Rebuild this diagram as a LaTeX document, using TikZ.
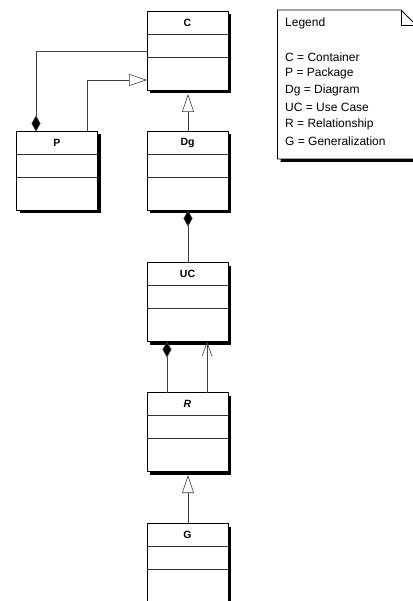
\documentclass[tikz,border=0pt]{standalone}
\usepackage{fontspec}
\setmainfont{Liberation Sans}
\usetikzlibrary{arrows.meta,shadows}
\begin{document}
\begin{tikzpicture}[x=1pt,y=-1pt,
  cls/.style={draw=black, line width=0.8pt, fill=white, minimum width=81pt, minimum height=79pt, inner sep=0pt, outer sep=0pt,
    drop shadow={shadow xshift=3pt, shadow yshift=-3pt, fill=black, opacity=1}},
  ttl/.style={font=\fontsize{10.5}{12}\selectfont\bfseries, anchor=center},
  dv/.style={line width=0.7pt, black!80},
  conn/.style={line width=0.6pt, black!75},
  gen/.style={conn, -{Triangle[open, length=18pt, width=12pt, fill=white]}},
  comp/.style={conn, {Diamond[length=16pt, width=9pt, fill=black]}-},
  nav/.style={conn, -{Straight Barb[length=14pt, width=10pt]}},
  leg/.style={font=\fontsize{12}{14}\selectfont, anchor=west, inner sep=0pt}
]
\useasboundingbox (0,0) rectangle (412,601);

% class boxes
\node[cls] (C)  at (187.5,50.5) {};
\node[cls] (P)  at (57,171) {};
\node[cls] (Dg) at (187.5,171) {};
\node[cls] (UC) at (187.5,302) {};
\node[cls] (R)  at (187.5,432) {};
\node[cls] (G)  at (187.5,563) {};

\foreach \n/\t in {C/C,P/P,Dg/Dg,UC/UC,G/G}{
  \node[ttl] (\n-t) at ([yshift=-11.5pt]\n.north) {\t};
  \draw[dv] ([yshift=-23pt]\n.north west) -- ([yshift=-23pt]\n.north east);
  \draw[dv] ([yshift=-46pt]\n.north west) -- ([yshift=-46pt]\n.north east);
}
\node[ttl] (R-t) at ([yshift=-11.5pt]R.north) {\itshape R};
\draw[dv] ([yshift=-23pt]R.north west) -- ([yshift=-23pt]R.north east);
\draw[dv] ([yshift=-46pt]R.north west) -- ([yshift=-46pt]R.north east);

% connectors
\coordinate (pc1) at (36,51);
\draw[comp] (P.north -| pc1) -- (pc1) -- (C.west |- pc1);
\coordinate (pg1) at (87,80);
\draw[gen] (P.north -| pg1) -- (pg1) -- (C.west |- pg1);
\coordinate (dgc) at (188,94);
\draw[gen] (Dg.north -| dgc) -- (dgc);
\draw[comp] (Dg.south -| dgc) -- (UC.north -| dgc);
\coordinate (ruc1) at (167,0);
\draw[comp] (UC.south -| ruc1) -- (R.north -| ruc1);
\coordinate (ruc2) at (207,0);
\draw[nav] (R.north -| ruc2) -- (UC.south -| ruc2);
\coordinate (rg) at (188,475);
\draw[gen] (G.north -| rg) -- (rg);

% legend note
\fill[black] (280.5,13) -- (404,13) -- (419,28) -- (419,162) -- (280.5,162) -- cycle;
\draw[line width=0.8pt, fill=white] (277.5,10) -- (401,10) -- (416,25) -- (416,159) -- (277.5,159) -- cycle;
\draw[line width=0.6pt] (401,10) -- (401,25) -- (416,25);
\node[leg] (lg) at (285,23) {Legend};
\node[leg] (l1) at (285,57) {C = Container};
\node[leg] (l2) at (285,73.5) {P = Package};
\node[leg] (l3) at (285,90.5) {Dg = Diagram};
\node[leg] (l4) at (285,107.5) {UC = Use Case};
\node[leg] (l5) at (285,124.5) {R = Relationship};
\node[leg] (l6) at (285,141.5) {G = Generalization};
\end{tikzpicture}
\end{document}
